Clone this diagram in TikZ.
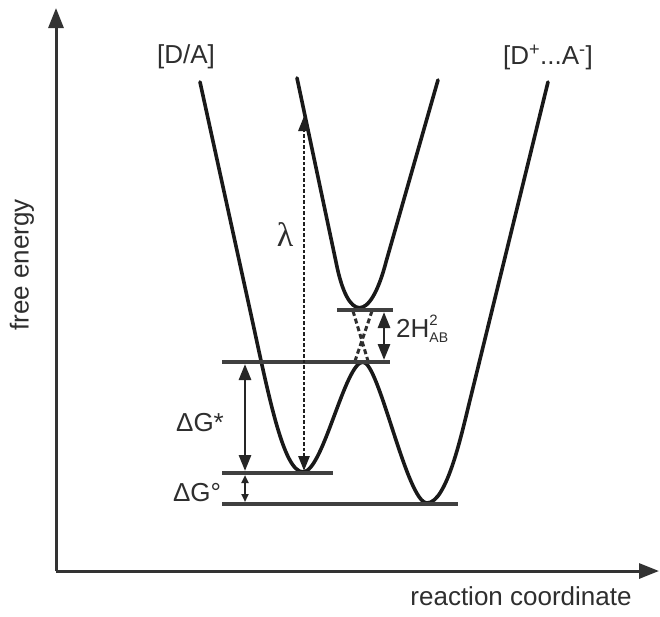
\documentclass[tikz,border=0pt]{standalone}
\usepackage{fontspec}
\setmainfont{Liberation Sans}
\newfontfamily\grserif{Liberation Serif}
\usetikzlibrary{arrows.meta}
\begin{document}
\begin{tikzpicture}[x=1pt,y=-1pt,
  curve/.style={line width=3.6pt, color=black!90, line join=round, line cap=round},
  level/.style={line width=3.4pt, color=black!75},
  crossdash/.style={line width=3pt, color=black!82, dash pattern=on 5pt off 3pt},
  axis/.style={line width=3pt, color=black!80, -{Triangle[length=20pt,width=15pt]}},
  dbl/.style={line width=2.8pt, color=black!85, {Triangle[length=16pt,width=12pt]}-{Triangle[length=16pt,width=12pt]}},
  dblsmall/.style={line width=2pt, color=black!85, {Triangle[length=8pt,width=7pt]}-{Triangle[length=8pt,width=7pt]}},
  lamarrow/.style={line width=2.8pt, color=black!88, dash pattern=on 3.5pt off 2pt, {Triangle[length=15pt,width=11pt]}-{Triangle[length=15pt,width=11pt]}},
  lbl/.style={font=\fontsize{26}{30}\selectfont, text=black!82, inner sep=0pt}]
\useasboundingbox (0,0) rectangle (660,616);
\fill[white] (0,0) rectangle (660,616);

% axes
\coordinate (O) at (56,571);
\coordinate (Ytop) at (56,8);
\coordinate (Xend) at (659,571);
\draw[axis] (O) -- (Ytop);
\draw[axis] (O) -- (Xend);

% lower adiabatic surface
\draw[curve] (200,82) -- (250,310)
  .. controls (268,392) and (283,472) .. (303,472)
  .. controls (323,472) and (345,362) .. (363,362)
  .. controls (379,362) and (407,503) .. (427,503)
  .. controls (447,503) and (462,432) .. (470,400)
  -- (548,82);
% upper adiabatic surface
\draw[curve] (297,78) -- (336,262)
  .. controls (348,323) and (370,323) .. (386,262)
  -- (438,80);

% diabatic crossing (dashed)
\coordinate (c1a) at (353,311);
\coordinate (c1b) at (368,361);
\coordinate (c2a) at (372,311);
\coordinate (c2b) at (355,361);
\draw[crossdash] (c1a) -- (c1b);
\draw[crossdash] (c2a) -- (c2b);

% energy levels
\coordinate (t1) at (337,310); \coordinate (t2) at (393,310);
\coordinate (b1) at (222,362); \coordinate (b2) at (390,362);
\coordinate (r1) at (222,473); \coordinate (r2) at (333,473);
\coordinate (p1) at (222,504); \coordinate (p2) at (458,504);
\draw[level] (t1) -- (t2);
\draw[level] (b1) -- (b2);
\draw[level] (r1) -- (r2);
\draw[level] (p1) -- (p2);

% arrows
\coordinate (hA) at (384,312); \coordinate (hB) at (384,360);
\draw[dbl] (hA) -- (hB);
\coordinate (gA) at (245,364); \coordinate (gB) at (245,471);
\draw[dbl] (gA) -- (gB);
\coordinate (oA) at (245,475); \coordinate (oB) at (245,502);
\draw[dblsmall] (oA) -- (oB);
\coordinate (lA) at (304,471); \coordinate (lB) at (304,116);
\draw[lamarrow] (lA) -- (lB);

% labels
\node[lbl] (da) at (186,57) {[D/A]};
\node[lbl] (dpa) at (548,57) {[D\textsuperscript{+}...A\textsuperscript{-}]};
\node[lbl, rotate=90] (fe) at (22,265) {free energy};
\node[lbl] (rc) at (521,596) {reaction coordinate};
\node[inner sep=0pt, text=black!82, font=\grserif\fontsize{34}{36}\selectfont] (lam) at (285,235) {λ};
\node[lbl] (dgs) at (200,423) {ΔG*};
\node[lbl] (dgo) at (197,493) {ΔG°};
\node[lbl, anchor=base west] (hab) at (396,337) {2H\rlap{\raisebox{12pt}{\fontsize{15}{15}\selectfont 2}}\raisebox{-5pt}{\fontsize{14}{14}\selectfont AB}};
\end{tikzpicture}
\end{document}
